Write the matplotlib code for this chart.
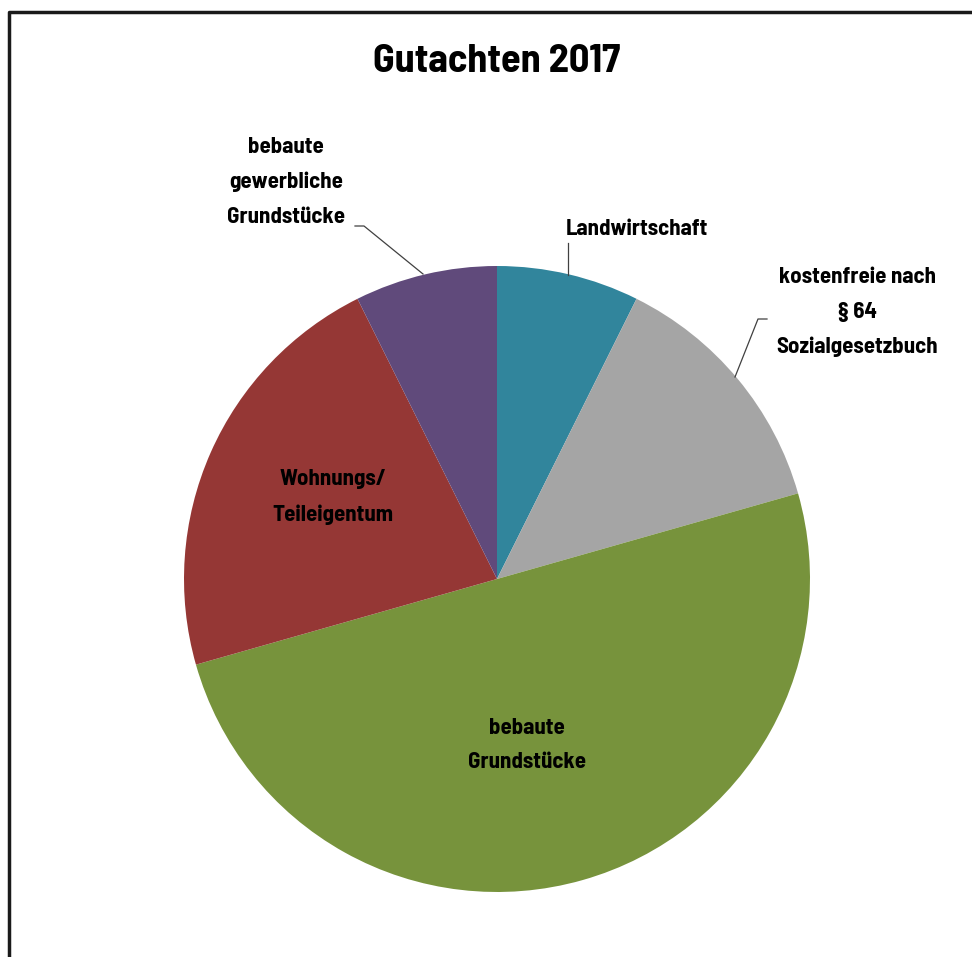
import matplotlib
matplotlib.use("Agg")
import matplotlib.pyplot as plt

W, H = 972, 957

labels = ["Landwirtschaft", "kostenfreie nach\n§ 64\nSozialgesetzbuch",
          "bebaute\nGrundstücke", "Wohnungs/\nTeileigentum",
          "bebaute\ngewerbliche\nGrundstücke"]
counts = [5, 9, 34, 15, 5]
colors = ["#31859C", "#A5A5A5", "#77933C", "#953735", "#604A7B"]

plt.rcParams["font.family"] = ["Barlow Semi Condensed", "DejaVu Sans"]


def py(y):
    # pixel rows from the top -> data y
    return H - y


fig = plt.figure(figsize=(W / 100, H / 100), dpi=100)
ax = fig.add_axes([0, 0, 1, 1])

# frame (only left and top edges fall inside the image)
ax.plot([9, 9, W + 5], [py(H + 5), py(12), py(12)], color="#1a1a1a", lw=2.5,
        solid_capstyle="butt", clip_on=False)

cx, cy, R = 497, 579, 313
ax.pie(counts, colors=colors, startangle=90, counterclock=False,
       center=(cx, py(cy)), radius=R, frame=True,
       wedgeprops=dict(linewidth=0))
ax.set_xlim(0, W)
ax.set_ylim(0, H)
ax.set_aspect("auto")
ax.axis("off")

ax.text(497, py(62), "Gutachten 2017", ha="center", va="center",
        fontsize=29, fontweight="bold")

txt = dict(ha="center", va="center", fontsize=16.5, fontweight="bold",
           linespacing=1.92)
ax.text(637, py(229), labels[0], **txt)
ax.text(857, py(312), labels[1], **txt)
ax.text(527, py(745), labels[2], **txt)
ax.text(333, py(497), labels[3], **txt)
ax.text(286, py(182), labels[4], **txt)

lc = dict(color="#404040", lw=0.9)
ax.plot([568, 568], [py(243), py(275)], **lc)
ax.plot([767, 758, 735], [py(319), py(319), py(377)], **lc)
ax.plot([355, 364, 423], [py(226), py(226), py(274)], **lc)

fig.savefig("out.png", dpi=100, facecolor="white")
